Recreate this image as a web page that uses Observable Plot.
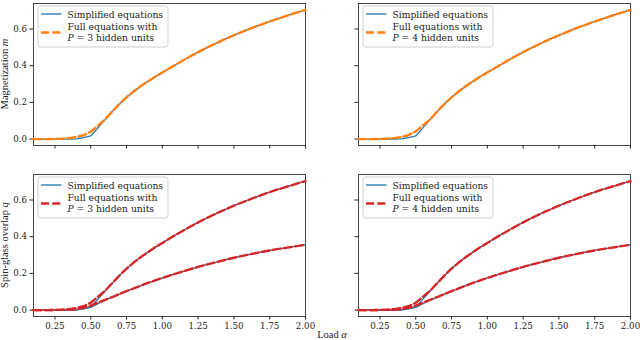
<!DOCTYPE html>
<html>
<head>
<meta charset="utf-8">
<script src="https://cdn.jsdelivr.net/npm/d3@7"></script>
<script src="https://cdn.jsdelivr.net/npm/@observablehq/plot@0.6"></script>
<style>
  html, body { margin: 0; padding: 0; background: #fff; }
  #fig { position: relative; width: 640px; height: 340px; overflow: hidden; }
  #fig > svg { position: absolute; }
</style>
</head>
<body>
<div id="fig"></div>
<script>
// ---- data ----
const alpha = [0.10,0.15,0.20,0.25,0.30,0.35,0.40,0.45,0.50,0.55,0.60,0.65,0.70,0.75,0.80,0.85,0.90,0.95,1.00,1.05,1.10,1.15,1.20,1.25,1.30,1.35,1.40,1.45,1.50,1.55,1.60,1.65,1.70,1.75,1.80,1.85,1.90,1.95,2.00];

// Magnetization m, simplified equations
const mSimple = [0,0,0,0,0,0,0.001,0.008,0.017,0.061,0.106,0.150,0.191,0.228,0.260,0.289,0.315,0.340,0.363,0.386,0.409,0.431,0.453,0.474,0.494,0.513,0.531,0.549,0.566,0.582,0.598,0.613,0.627,0.641,0.654,0.667,0.680,0.692,0.704];
// Magnetization m, full equations
const mFull3 = [0,0,0,0.001,0.002,0.005,0.011,0.021,0.040,0.073,0.107,0.150,0.191,0.228,0.260,0.289,0.315,0.340,0.363,0.386,0.409,0.431,0.453,0.474,0.494,0.513,0.531,0.549,0.566,0.582,0.598,0.613,0.627,0.641,0.654,0.667,0.680,0.692,0.704];
const mFull4 = [0,0,0,0.001,0.002,0.005,0.011,0.022,0.042,0.074,0.107,0.150,0.191,0.228,0.260,0.289,0.315,0.340,0.363,0.386,0.409,0.431,0.453,0.474,0.494,0.513,0.531,0.549,0.566,0.582,0.598,0.613,0.627,0.641,0.654,0.667,0.680,0.692,0.704];

// Spin-glass overlap q: upper and lower branches
const qHighSimple = [0,0,0,0,0,0,0.001,0.008,0.017,0.060,0.104,0.147,0.188,0.226,0.259,0.289,0.316,0.342,0.366,0.390,0.413,0.435,0.457,0.478,0.498,0.517,0.535,0.552,0.569,0.585,0.600,0.615,0.629,0.643,0.656,0.668,0.680,0.692,0.703];
const qHighFull = [0,0,0,0.001,0.002,0.005,0.011,0.021,0.040,0.072,0.105,0.147,0.188,0.226,0.259,0.289,0.316,0.342,0.366,0.390,0.413,0.435,0.457,0.478,0.498,0.517,0.535,0.552,0.569,0.585,0.600,0.615,0.629,0.643,0.656,0.668,0.680,0.692,0.703];
const qLowSimple = [0,0,0,0,0,0,0.001,0.007,0.015,0.035,0.054,0.071,0.087,0.103,0.118,0.133,0.148,0.162,0.175,0.188,0.200,0.212,0.224,0.235,0.246,0.256,0.266,0.276,0.285,0.294,0.302,0.310,0.318,0.325,0.332,0.338,0.344,0.350,0.356];
const qLowFull = [0,0,0,0.001,0.001,0.002,0.005,0.012,0.024,0.040,0.056,0.071,0.087,0.103,0.118,0.133,0.148,0.162,0.175,0.188,0.200,0.212,0.224,0.235,0.246,0.256,0.266,0.276,0.285,0.294,0.302,0.310,0.318,0.325,0.332,0.338,0.344,0.350,0.356];

const xTicks = [0.25,0.50,0.75,1.00,1.25,1.50,1.75,2.00];
const yTicks = [0.0,0.2,0.4,0.6];
const hiddenUnits = [3, 4];
const yLabels = ["Magnetization ", "Spin-glass overlap "];
const yVars = ["m", "q"];
const xLabel = "Load ";
const xVar = "α";
const legendSimple = "Simplified equations";
const legendFull = "Full equations with";
const legendUnits = " hidden units";

const blue = "#1f77b4", orange = "#ff7f0e", red = "#d62728";
const dash = "8,3.3";
const serifFont = "DejaVu Serif";
const labelFont = "Liberation Serif";

const rows = (ys) => alpha.map((a, i) => ({a, v: ys[i]}));

function panel({simple, full, color, showX, showY, left, top, frameL}) {
  const W = 320, H = 170;
  const marks = [Plot.frame({stroke: "#333", strokeWidth: 0.9})];
  for (const s of simple) marks.push(Plot.line(rows(s), {x: "a", y: "v", stroke: blue, strokeWidth: 1.3}));
  for (const f of full) marks.push(Plot.line(rows(f), {x: "a", y: "v", stroke: color, strokeWidth: 2.4, strokeDasharray: dash}));
  const svg = Plot.plot({
    width: W, height: H,
    marginLeft: frameL,
    marginRight: W - frameL - 272,
    marginTop: top === 0 ? 3 : 14,
    marginBottom: top === 0 ? H - 145 : H - 156,
    style: {fontFamily: serifFont, fontSize: "8.7px", color: "#222", background: "transparent", overflow: "visible"},
    x: {domain: [0.1, 2.0], ticks: xTicks, tickFormat: showX ? d3.format(".2f") : () => "", tickSize: 3.5, tickPadding: 2.5, label: null},
    y: {domain: [-0.035, 0.739], ticks: yTicks, tickFormat: showY ? d3.format(".1f") : () => "", tickSize: 3.5, tickPadding: 3, label: null},
    marks
  });
  svg.style.left = left + "px";
  svg.style.top = top + "px";
  return svg;
}

const fig = document.getElementById("fig");
fig.appendChild(panel({simple: [mSimple], full: [mFull3], color: orange, showX: false, showY: true, left: 0, top: 0, frameL: 33}));
fig.appendChild(panel({simple: [mSimple], full: [mFull4], color: orange, showX: false, showY: false, left: 320, top: 0, frameL: 38}));
fig.appendChild(panel({simple: [qHighSimple, qLowSimple], full: [qHighFull, qLowFull], color: red, showX: true, showY: true, left: 0, top: 160, frameL: 33}));
fig.appendChild(panel({simple: [qHighSimple, qLowSimple], full: [qHighFull, qLowFull], color: red, showX: true, showY: false, left: 320, top: 160, frameL: 38}));

// overlay: axis labels and legends
const NS = "http://www.w3.org/2000/svg";
const ov = document.createElementNS(NS, "svg");
ov.setAttribute("width", 640); ov.setAttribute("height", 340);
ov.style.left = "0px"; ov.style.top = "0px"; ov.style.pointerEvents = "none";
fig.appendChild(ov);

function label(x, y, rot, txt, v) {
  const t = document.createElementNS(NS, "text");
  t.setAttribute("font-family", labelFont);
  t.setAttribute("font-size", "10.5");
  t.setAttribute("fill", "#222");
  t.setAttribute("text-anchor", "middle");
  t.setAttribute("transform", `translate(${x},${y}) rotate(${rot})`);
  t.appendChild(document.createTextNode(txt));
  const s = document.createElementNS(NS, "tspan");
  s.setAttribute("font-style", "italic");
  s.textContent = v;
  t.appendChild(s);
  ov.appendChild(t);
}
label(8, 74, -90, yLabels[0], yVars[0]);
label(8, 245, -90, yLabels[1], yVars[1]);
label(332, 338, 0, xLabel, xVar);

function legend(x, y, color, P) {
  const g = document.createElementNS(NS, "g");
  g.setAttribute("transform", `translate(${x},${y})`);
  g.setAttribute("font-family", serifFont);
  g.setAttribute("font-size", "9.2");
  g.setAttribute("fill", "#222");
  g.innerHTML = `
    <rect x="0.5" y="0.5" width="130" height="41" rx="2.5" fill="rgba(255,255,255,0.85)" stroke="#cfcfcf" stroke-width="1"/>
    <line x1="3.5" x2="24" y1="8.5" y2="8.5" stroke="${blue}" stroke-width="1.3"/>
    <line x1="3.5" x2="24" y1="27" y2="27" stroke="${color}" stroke-width="2.4" stroke-dasharray="${dash}"/>
    <text x="30" y="12">${legendSimple}</text>
    <text x="30" y="24">${legendFull}</text>
    <text x="30" y="35.8"><tspan font-style="italic">P</tspan> = ${P}${legendUnits}</text>`;
  ov.appendChild(g);
}
legend(37.5, 5.5, orange, hiddenUnits[0]);
legend(362.5, 5.5, orange, hiddenUnits[1]);
legend(37.5, 176.5, red, hiddenUnits[0]);
legend(362.5, 176.5, red, hiddenUnits[1]);
</script>
</body>
</html>
